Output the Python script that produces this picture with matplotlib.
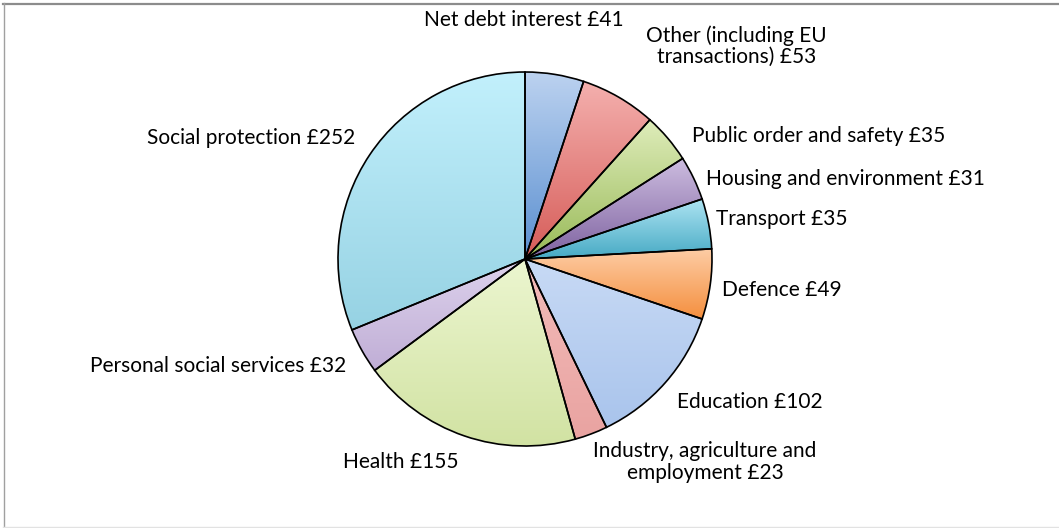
import numpy as np
import matplotlib
matplotlib.use("Agg")
import matplotlib.pyplot as plt
from matplotlib.colors import LinearSegmentedColormap
from matplotlib.lines import Line2D

# UK public spending by function (£ billion)
labels = [
    "Net debt interest £41",
    "Other (including EU\ntransactions) £53",
    "Public order and safety £35",
    "Housing and environment £31",
    "Transport £35",
    "Defence £49",
    "Education £102",
    "Industry, agriculture and\nemployment £23",
    "Health £155",
    "Personal social services £32",
    "Social protection £252",
]
values = [41, 53, 35, 31, 35, 49, 102, 23, 155, 32, 252]

# light (top) and dark (bottom) shade of each slice
top_colors = ["#bcd2f0", "#f4b0ae", "#dfedbb", "#cdbde0", "#ade4f2", "#fdcda6",
              "#c8daf5", "#f3bcba", "#ecf6d0", "#ddd2ec", "#c2f0fc"]
bottom_colors = ["#5a8fd0", "#d65c58", "#98b957", "#7e62a0", "#46a9c4", "#f58f3e",
                 "#a9c4ec", "#e9a3a1", "#d1e2a2", "#c0aed6", "#96d2e3"]

# where each label sits (pie radius = 1) and how it is aligned
label_pos = [(-0.005, 1.278), (1.13, 1.139), (0.893, 0.658), (0.968, 0.428),
             (1.021, 0.214), (1.053, -0.166), (0.813, -0.765), (0.963, -1.086),
             (-0.973, -1.086), (-0.957, -0.572), (-0.909, 0.647)]
label_ha = ["center", "center", "left", "left", "left", "left", "left",
            "center", "left", "right", "right"]

plt.rcParams["font.family"] = ["Lato", "DejaVu Sans"]

W, H, DPI = 1059, 528, 100
R_PX, CX, CY = 187, 525, 259

fig = plt.figure(figsize=(W / DPI, H / DPI), dpi=DPI)
ax = fig.add_axes([0, 0, 1, 1])
ax.axis("off")

wedges, _ = ax.pie(values, startangle=90, counterclock=False, radius=1,
                   wedgeprops=dict(edgecolor="black", linewidth=1.2, facecolor="none"))

for w, c0, c1 in zip(wedges, top_colors, bottom_colors):
    w.set_zorder(3)
    # vertical gradient over the slice's extent, clipped to the slice
    verts = w.get_patch_transform().transform(w.get_path().vertices)
    x0, x1 = verts[:, 0].min(), verts[:, 0].max()
    y0, y1 = verts[:, 1].min(), verts[:, 1].max()
    cmap = LinearSegmentedColormap.from_list("g", [c1, c0])
    grad = np.linspace(0, 1, 256).reshape(-1, 1)
    im = ax.imshow(grad, cmap=cmap, origin="lower", extent=(x0, x1, y0, y1),
                   aspect="auto", zorder=2, interpolation="bilinear")
    im.set_clip_path(w)

ax.set_xlim(-CX / R_PX, (W - CX) / R_PX)
ax.set_ylim(-(H - CY) / R_PX, CY / R_PX)

for text, (x, y), ha in zip(labels, label_pos, label_ha):
    ax.text(x, y, text, ha=ha, va="center", fontsize=15, color="black",
            multialignment="center", linespacing=1.1, zorder=5)

# chart frame
fig.add_artist(Line2D([3 / W, 1], [1 - 3.5 / H, 1 - 3.5 / H], color="#8c8c8c", lw=1.6))
fig.add_artist(Line2D([3.5 / W, 3.5 / W], [1.5 / H, 1 - 3 / H], color="#a0a0a0", lw=1.0))
fig.add_artist(Line2D([3 / W, 1], [1.5 / H, 1.5 / H], color="#e2e2e2", lw=1.0))

fig.savefig("out.png", dpi=DPI)
